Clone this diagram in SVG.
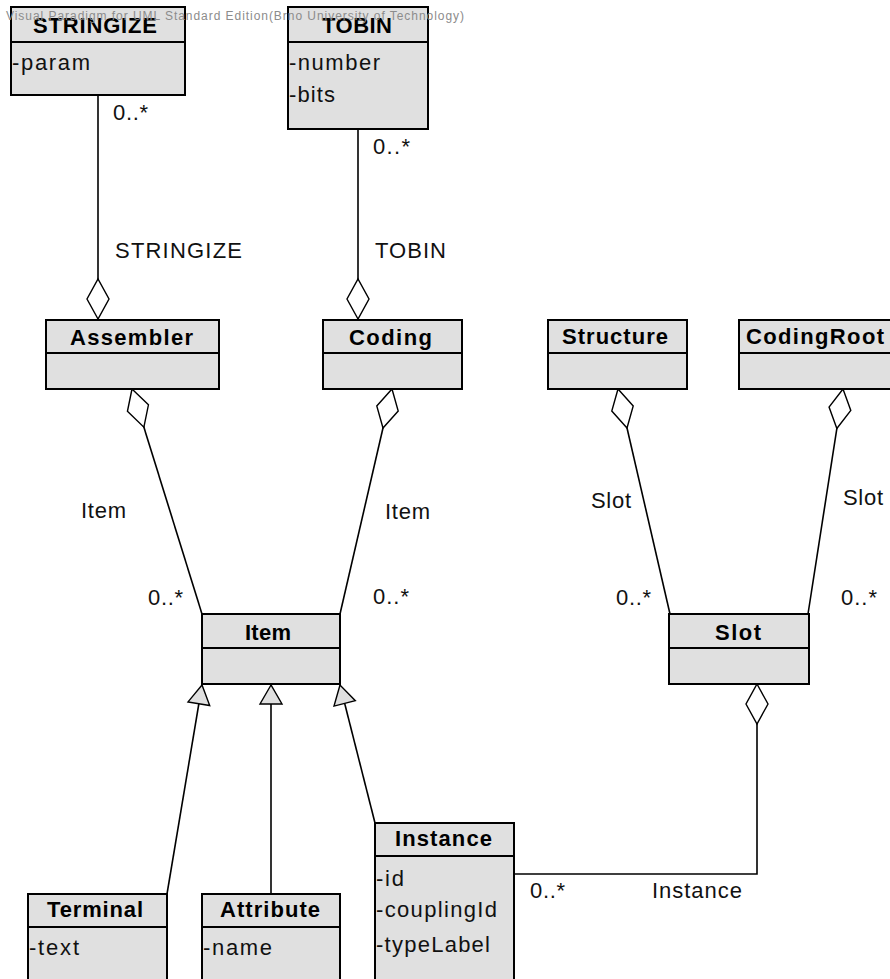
<svg xmlns="http://www.w3.org/2000/svg" width="890" height="979" viewBox="0 0 890 979">
  <style>
    .cls rect { fill: #e0e0e0; stroke: #000; stroke-width: 2; }
    .cls line { stroke: #000; stroke-width: 2; }
    .name { font-family: "Liberation Sans", Arial, sans-serif; font-weight: bold; font-size: 22px; fill: #000; }
    .attr { font-family: "Liberation Sans", Arial, sans-serif; font-size: 22px; fill: #111; }
    .lbl { font-family: "Liberation Sans", Arial, sans-serif; font-size: 22px; fill: #111; }
    .conn { fill: none; stroke: #000; stroke-width: 1.6; }
    .agg { marker-start: url(#diamond); }
    .gen { marker-end: url(#triangle); }
    .wm { font-family: "Liberation Sans", Arial, sans-serif; font-size: 12px; fill: #8c8c8c; }
  </style>
  <defs>
    <!-- hollow aggregation diamond, drawn from the whole-end along the line -->
    <marker id="diamond" markerUnits="userSpaceOnUse" orient="auto" refX="0" refY="0" markerWidth="42" markerHeight="24" overflow="visible">
      <path d="M0,0 L20,-11 L40,0 L20,11 Z" fill="#fff" stroke="#000" stroke-width="1.4"/>
    </marker>
    <!-- hollow generalization triangle -->
    <marker id="triangle" markerUnits="userSpaceOnUse" orient="auto" refX="0" refY="0" markerWidth="22" markerHeight="24" overflow="visible">
      <path d="M0,0 L-19,-11 L-19,11 Z" fill="#e0e0e0" stroke="#000" stroke-width="1.4"/>
    </marker>
  </defs>

  <rect width="890" height="979" fill="#fff"/>

  <g id="connectors">
    <path class="conn agg" d="M98,319 L98,95"/>
    <path class="conn agg" d="M358,319 L358,129"/>
    <path class="conn agg" d="M132,389 L202,614"/>
    <path class="conn agg" d="M392,389 L340,614"/>
    <path class="conn agg" d="M618,389 L670,614"/>
    <path class="conn agg" d="M843,389 L808,614"/>
    <path class="conn agg" d="M757,684 L757,874 L514,874"/>
    <path class="conn gen" d="M167,894 L202,685"/>
    <path class="conn gen" d="M271,894 L271,685"/>
    <path class="conn gen" d="M375,823 L340,685"/>

    <text class="lbl" x="113" y="120" textLength="35">0..*</text>
    <text class="lbl" x="115" y="258" textLength="127">STRINGIZE</text>
    <text class="lbl" x="373" y="154" textLength="37">0..*</text>
    <text class="lbl" x="375" y="258" textLength="71">TOBIN</text>
    <text class="lbl" x="81" y="518" textLength="45">Item</text>
    <text class="lbl" x="148" y="605" textLength="35">0..*</text>
    <text class="lbl" x="385" y="519" textLength="45">Item</text>
    <text class="lbl" x="373" y="604" textLength="36">0..*</text>
    <text class="lbl" x="591" y="508" textLength="40">Slot</text>
    <text class="lbl" x="616" y="605" textLength="35">0..*</text>
    <text class="lbl" x="843" y="505" textLength="40">Slot</text>
    <text class="lbl" x="841" y="605" textLength="36">0..*</text>
    <text class="lbl" x="530" y="898" textLength="35">0..*</text>
    <text class="lbl" x="652" y="898" textLength="90">Instance</text>
  </g>

  <g id="stringize" class="cls">
    <rect x="11" y="7" width="174" height="88"/>
    <line x1="11" y1="42" x2="185" y2="42"/>
    <text class="name" x="33" y="33" textLength="124">STRINGIZE</text>
    <text class="attr" x="12" y="70" textLength="78">-param</text>
  </g>

  <g id="tobin" class="cls">
    <rect x="288" y="7" width="140" height="122"/>
    <line x1="288" y1="42" x2="428" y2="42"/>
    <text class="name" x="322" y="33" textLength="70">TOBIN</text>
    <text class="attr" x="289" y="70" textLength="91">-number</text>
    <text class="attr" x="289" y="102" textLength="46">-bits</text>
  </g>

  <g id="assembler" class="cls">
    <rect x="46" y="320" width="173" height="69"/>
    <line x1="46" y1="353" x2="219" y2="353"/>
    <text class="name" x="70" y="345" textLength="123">Assembler</text>
  </g>

  <g id="coding" class="cls">
    <rect x="323" y="320" width="139" height="69"/>
    <line x1="323" y1="353" x2="462" y2="353"/>
    <text class="name" x="349" y="345" textLength="83">Coding</text>
  </g>

  <g id="structure" class="cls">
    <rect x="548" y="320" width="139" height="69"/>
    <line x1="548" y1="353" x2="687" y2="353"/>
    <text class="name" x="562" y="344" textLength="106">Structure</text>
  </g>

  <g id="codingroot" class="cls">
    <rect x="739" y="320" width="170" height="69"/>
    <line x1="739" y1="353" x2="909" y2="353"/>
    <text class="name" x="746" y="344" textLength="138">CodingRoot</text>
  </g>

  <g id="item" class="cls">
    <rect x="202" y="614" width="138" height="70"/>
    <line x1="202" y1="648" x2="340" y2="648"/>
    <text class="name" x="245" y="640" textLength="46">Item</text>
  </g>

  <g id="slot" class="cls">
    <rect x="669" y="614" width="140" height="70"/>
    <line x1="669" y1="648" x2="809" y2="648"/>
    <text class="name" x="715" y="640" textLength="46">Slot</text>
  </g>

  <g id="terminal" class="cls">
    <rect x="28" y="894" width="139" height="100"/>
    <line x1="28" y1="927" x2="167" y2="927"/>
    <text class="name" x="47" y="917" textLength="96">Terminal</text>
    <text class="attr" x="29" y="955" textLength="50">-text</text>
  </g>

  <g id="attribute" class="cls">
    <rect x="202" y="894" width="138" height="100"/>
    <line x1="202" y1="927" x2="340" y2="927"/>
    <text class="name" x="220" y="917" textLength="100">Attribute</text>
    <text class="attr" x="203" y="955" textLength="69">-name</text>
  </g>

  <g id="instance" class="cls">
    <rect x="375" y="823" width="139" height="170"/>
    <line x1="375" y1="856" x2="514" y2="856"/>
    <text class="name" x="395" y="846" textLength="97">Instance</text>
    <text class="attr" x="376" y="886" textLength="28">-id</text>
    <text class="attr" x="376" y="917" textLength="121">-couplingId</text>
    <text class="attr" x="376" y="952" textLength="114">-typeLabel</text>
  </g>

  <text class="wm" x="6" y="20" textLength="458">Visual Paradigm for UML Standard Edition(Brno University of Technology)</text>
</svg>
